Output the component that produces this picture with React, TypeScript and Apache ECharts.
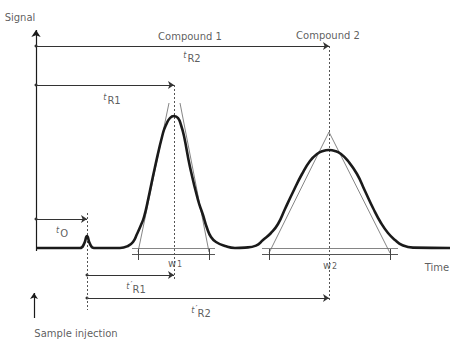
import { useEffect, useRef } from "react";
import * as echarts from "echarts";

// Chromatogram trace (time units, signal units)
const curveTime = [0, 2.2, 2.4, 2.55, 2.7, 2.9, 4.2, 4.6, 4.85, 5.05, 5.25, 5.4, 5.6, 5.95, 6.35, 6.5, 6.7, 6.9, 7.1, 7.25, 7.4, 7.7, 8.1, 8.35, 8.55, 8.75, 9.0, 9.45, 9.95, 10.45, 11.0, 11.35, 11.75, 12.1, 12.45, 12.85, 13.3, 13.7, 14.05, 14.35, 14.65, 14.95, 15.25, 15.6, 16.05, 16.45, 16.85, 17.25, 17.6, 17.95, 18.3, 18.85, 20.7];
const curveSignal = [0, 0, 0.2, 0.6, 0.2, 0, 0, 0.1, 0.3, 0.7, 1.15, 1.55, 2.4, 4.05, 5.75, 6.15, 6.5, 6.6, 6.5, 6.15, 5.6, 4.05, 2.4, 1.65, 1.0, 0.55, 0.3, 0.1, 0, 0.02, 0.12, 0.4, 0.75, 1.2, 1.95, 2.8, 3.7, 4.35, 4.7, 4.85, 4.9, 4.85, 4.7, 4.35, 3.7, 2.85, 2.0, 1.25, 0.75, 0.4, 0.15, 0.02, 0];

// Characteristic times: t0, tR1, tR2
const keyTimes = [2.55, 6.9, 14.65];
// Levels of the dimension arrows: compound/tR2, tR1, t0, w, t'R1, t'R2
const arrowLevels = [10.1, 8.15, 1.45, -0.3, -1.35, -2.5];
// Tangent lines: [baseStart, apex] pairs
const tangentLeft1 = [[5.1, -0.2], [6.65, 7.25]];
const tangentRight1 = [[8.65, -0.2], [7.2, 7.25]];
const tangentLeft2 = [[11.65, -0.25], [14.65, 5.8]];
const tangentRight2 = [[17.7, -0.25], [14.65, 5.8]];
// Peak widths at base (tangent intersections) and drawn extent
const widthBounds = [[5.1, 8.65], [11.65, 17.7]];
const widthExtent = [[4.8, 8.95], [11.3, 18.1]];
// Axis extents
const axisTop = 10.9;
const injectionArrow = [-3.5, -2.25];

const labelTexts = ["Signal", "Compound 1", "Compound 2", "{t|t}{s|R2}", "{t|t}{s|R1}", "{t|t}{s|O}", "{s|w}{n|1}", "{s|w}{n|2}", "{t|t}{p|′}{s|R1}", "{t|t}{p|′}{s|R2}", "Time", "Sample injection"];
const labelTimes = [-0.8, 7.7, 14.6, 7.8, 3.8, 1.3, 6.95, 14.7, 5.0, 8.25, 20.05, 2.0];
const labelSignals = [11.55, 10.6, 10.65, 9.5, 7.4, 0.75, -0.75, -0.85, -2.05, -3.25, -0.95, -4.25];

const INK = "#1a1a1a";
const THIN = "#333";
const FONT = "DejaVu Sans";

export default function App() {
  const ref = useRef<HTMLDivElement>(null);
  useEffect(() => {
    if (!ref.current) return;
    const chart = echarts.init(ref.current, undefined, { renderer: "svg" });
    const [t0, tR1, tR2] = keyTimes;
    const [lvC, lvR1, lvT0, lvW, lvR1p, lvR2p] = arrowLevels;

    const seg = (a: number[], b: number[], opts: any = {}) => [
      { coord: a, symbol: opts.s1 || "none", symbolSize: opts.ss1 || 6 },
      { coord: b, symbol: opts.s2 || "none", symbolSize: opts.ss2 || 6, lineStyle: { color: opts.color || THIN, width: opts.width || 1, type: opts.type || "solid" } },
    ];
    const arrow = (a: number[], b: number[]) => seg(a, b, { s1: "circle", ss1: 3, s2: "arrow", ss2: 6 });
    const dashed = (a: number[], b: number[]) => seg(a, b, { type: [2, 2], color: "#555" });

    const lines: any[] = [
      seg([0, -0.15], [0, axisTop], { s2: "arrow", ss2: 7, color: INK, width: 1.2 }),
      arrow([0, lvC], [tR2, lvC]),
      arrow([0, lvR1], [tR1, lvR1]),
      arrow([0, lvT0], [t0, lvT0]),
      arrow([t0, lvR1p], [tR1, lvR1p]),
      arrow([t0, lvR2p], [tR2, lvR2p]),
      dashed([t0, lvT0 + 0.3], [t0, -3.1]),
      dashed([tR1, lvR1], [tR1, -1.6]),
      dashed([tR2, lvC], [tR2, lvR2p - 0.2]),
      seg(tangentLeft1[0], tangentLeft1[1], { color: "#666", width: 0.8 }),
      seg(tangentRight1[0], tangentRight1[1], { color: "#666", width: 0.8 }),
      seg(tangentLeft2[0], tangentLeft2[1], { color: "#666", width: 0.8 }),
      seg(tangentRight2[0], tangentRight2[1], { color: "#666", width: 0.8 }),
      seg([-0.1, injectionArrow[0]], [-0.1, injectionArrow[1]], { s2: "arrow", ss2: 6, color: INK, width: 1.2 }),
    ];
    widthExtent.forEach((ext, i) => {
      lines.push(seg([ext[0], 0], [ext[1], 0], { color: "#666", width: 0.8 }));
      lines.push(seg([ext[0], lvW], [ext[1], lvW], { color: "#555", width: 1 }));
      widthBounds[i].forEach((b) => lines.push(seg([b, lvW + 0.25], [b, lvW - 0.3], { color: "#444", width: 1 })));
    });

    const labelData = labelTexts.map((txt, i) => ({
      value: [labelTimes[i], labelSignals[i]],
      label: { formatter: txt },
    }));

    chart.setOption({
      animation: false,
      grid: { left: 0, right: 0, top: 0, bottom: 0 },
      xAxis: { type: "value", min: -1.8, max: 20.9, show: false },
      yAxis: { type: "value", min: -4.6, max: 12.4, show: false },
      series: [
        {
          type: "line",
          name: "Signal",
          data: curveTime.map((t, i) => [t, curveSignal[i]]),
          smooth: 0.5,
          symbol: "none",
          lineStyle: { color: INK, width: 2.6 },
          silent: true,
          z: 5,
          markLine: {
            silent: true,
            symbol: ["none", "none"],
            label: { show: false },
            emphasis: { disabled: true },
            data: lines,
          },
        },
        {
          type: "scatter",
          symbolSize: 1,
          itemStyle: { color: "rgba(0,0,0,0)" },
          silent: true,
          data: labelData,
          label: {
            show: true,
            position: "inside",
            color: "#333",
            fontFamily: FONT,
            fontSize: 10,
            rich: {
              t: { fontSize: 8, fontStyle: "italic", color: "#333", fontFamily: FONT, padding: [0, 1, 6, 0] },
              p: { fontSize: 9, color: "#333", fontFamily: FONT, padding: [0, 0, 8, 0] },
              s: { fontSize: 10, color: "#333", fontFamily: FONT },
              n: { fontSize: 8, color: "#333", fontFamily: FONT, padding: [0, 0, -3, 1] },
            },
          },
        },
      ],
    });
    return () => chart.dispose();
  }, []);
  return <div ref={ref} style={{ width: 454, height: 340, position: "absolute", left: 0, top: 0, background: "#fff" }} />;
}
